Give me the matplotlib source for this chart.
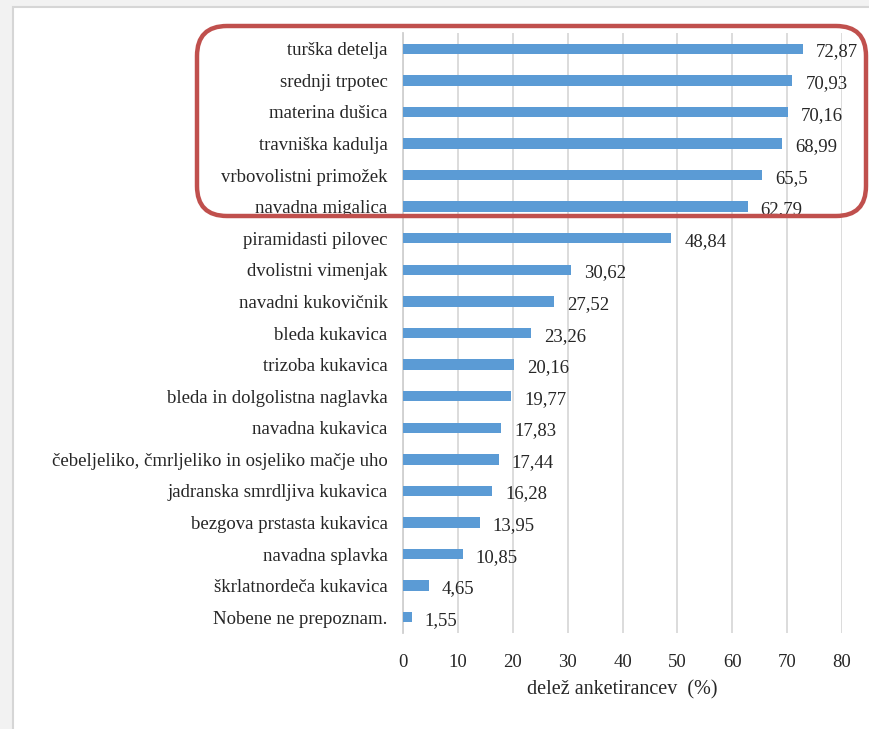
import matplotlib.pyplot as plt
from matplotlib.patches import FancyBboxPatch, Rectangle

plt.rcParams['font.family'] = ['Liberation Serif', 'DejaVu Serif']

# species, top to bottom
species = ['turška detelja', 'srednji trpotec', 'materina dušica', 'travniška kadulja',
           'vrbovolistni primožek', 'navadna migalica', 'piramidasti pilovec',
           'dvolistni vimenjak', 'navadni kukovičnik', 'bleda kukavica', 'trizoba kukavica',
           'bleda in dolgolistna naglavka', 'navadna kukavica',
           'čebeljeliko, čmrljeliko in osjeliko mačje uho', 'jadranska smrdljiva kukavica',
           'bezgova prstasta kukavica', 'navadna splavka', 'škrlatnordeča kukavica',
           'Nobene ne prepoznam.']
share = [72.87, 70.93, 70.16, 68.99, 65.5, 62.79, 48.84, 30.62, 27.52, 23.26, 20.16,
         19.77, 17.83, 17.44, 16.28, 13.95, 10.85, 4.65, 1.55]
xticks = [0, 10, 20, 30, 40, 50, 60, 70, 80]

W, H = 869, 729
fig = plt.figure(figsize=(W/100, H/100), dpi=100, facecolor='#f2f2f2')

# white chart panel
fig.patches.append(Rectangle((13/W, -0.01), 1, 1 - 7/H + 0.01, transform=fig.transFigure,
                             facecolor='white', edgecolor='#d6d6d6', linewidth=1.5, zorder=-1))

ax = fig.add_axes([403/W, 1 - 633/H, (842 - 403)/W, (633 - 33)/H])
ax.set_zorder(1)
ax.set_facecolor('none')

pos = list(range(len(species)))
ax.barh(pos, share, height=0.33, color='#5b9bd5', zorder=3)
for p, v in zip(pos, share):
    ax.text(v + 2.4, p + 0.1, f'{v:g}'.replace('.', ','), va='center', ha='left',
            fontsize=13.5, color='#262626')

ax.set_ylim(len(species) - 0.5, -0.5)
ax.set_xlim(0, 80)
ax.set_xticks(xticks)
ax.set_yticks(pos)
ax.set_yticklabels(species)
ax.tick_params(axis='y', length=0, pad=11, labelsize=13.5, labelcolor='#262626')
ax.tick_params(axis='x', length=0, pad=15, labelsize=13.5, labelcolor='#262626')
ax.grid(axis='x', color='#d9d9d9', linewidth=1.3, zorder=0)
for s in ['top', 'right', 'bottom']:
    ax.spines[s].set_visible(False)
ax.spines['left'].set_color('#d0d0d0')
ax.spines['left'].set_linewidth(1.3)
ax.set_xlabel('delež anketirancev  (%)', fontsize=14.5, color='#262626', labelpad=7)

# red rounded frame around the top six
box = FancyBboxPatch((1.97, (H - 216)/100), 6.69, 1.90,
                     boxstyle='round,pad=0,rounding_size=0.3',
                     transform=fig.dpi_scale_trans, facecolor='none',
                     edgecolor='#c0504d', linewidth=3.2, zorder=10)
fig.patches.append(box)

fig.savefig('out.png', dpi=100, facecolor=fig.get_facecolor())
